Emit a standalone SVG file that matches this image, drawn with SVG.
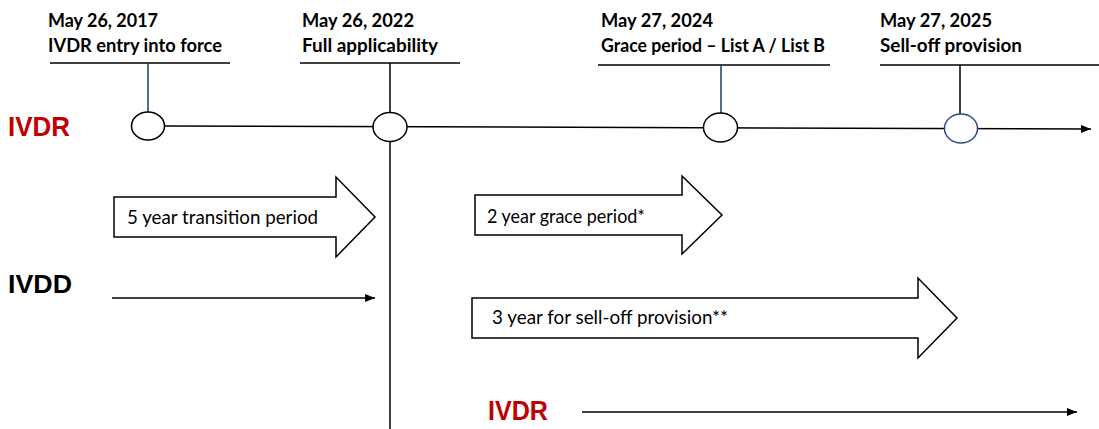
<svg xmlns="http://www.w3.org/2000/svg" width="1099" height="429" viewBox="0 0 1099 429">
  <defs>
    <marker id="ah" viewBox="0 0 10 8" refX="10" refY="4" markerWidth="10" markerHeight="8" markerUnits="userSpaceOnUse" orient="auto">
      <path d="M0,0 L10,4 L0,8 Z" fill="#000"/>
    </marker>
  </defs>
  <style>
    .date { font-family: Lato, "Liberation Sans", sans-serif; font-weight: bold; font-size: 18px; fill: #000; }
    .lbl { font-family: Lato, "Liberation Sans", sans-serif; font-size: 19px; fill: #000; }
    .reg { font-family: "Liberation Sans", Arial, sans-serif; font-weight: bold; }
    .red { fill: #c00000; }
    .ln { stroke: #000; stroke-width: 1.5; fill: none; }
    .blue { stroke: #1f3a68; }
    .node { fill: #fff; stroke: #000; stroke-width: 1.5; }
    .node.bluenode { stroke: #2b4f80; }
    .block { fill: #fff; stroke: #000; stroke-width: 1.5; stroke-linejoin: miter; }
  </style>
  <rect width="1099" height="429" fill="#fff"/>

  <g id="labels">
    <text class="reg red" x="8" y="136" font-size="28" textLength="62" lengthAdjust="spacingAndGlyphs">IVDR</text>
    <text class="reg" x="8" y="293" font-size="26" fill="#000" textLength="64" lengthAdjust="spacingAndGlyphs">IVDD</text>
    <text class="reg red" x="488" y="420" font-size="27" textLength="60" lengthAdjust="spacingAndGlyphs">IVDR</text>
  </g>

  <g id="connectors">
    <line class="ln" x1="164" y1="126" x2="1091" y2="129" marker-end="url(#ah)"/>
    <line class="ln" x1="390" y1="63" x2="390" y2="429"/>
    <line class="ln" x1="112" y1="298" x2="375" y2="298" marker-end="url(#ah)"/>
    <line class="ln" x1="582" y1="412" x2="1077" y2="412" marker-end="url(#ah)"/>
  </g>

  <g id="m2017">
    <text class="date" x="48" y="27" textLength="110" lengthAdjust="spacingAndGlyphs">May 26, 2017</text>
    <text class="date" x="48" y="52" textLength="174" lengthAdjust="spacingAndGlyphs">IVDR entry into force</text>
    <line class="ln" x1="50" y1="63" x2="230" y2="63"/>
    <line class="ln blue" x1="148" y1="63" x2="148" y2="112"/>
    <ellipse class="node" cx="148" cy="126" rx="16.5" ry="14"/>
  </g>

  <g id="m2022">
    <text class="date" x="302" y="27" textLength="112" lengthAdjust="spacingAndGlyphs">May 26, 2022</text>
    <text class="date" x="302" y="52" textLength="136" lengthAdjust="spacingAndGlyphs">Full applicability</text>
    <line class="ln" x1="300" y1="63" x2="460" y2="63"/>
    <ellipse class="node" cx="390" cy="127" rx="17" ry="14.5"/>
  </g>

  <g id="m2024">
    <text class="date" x="601" y="27" textLength="112" lengthAdjust="spacingAndGlyphs">May 27, 2024</text>
    <text class="date" x="601" y="52" textLength="224" lengthAdjust="spacingAndGlyphs">Grace period – List A / List B</text>
    <line class="ln" x1="598" y1="65" x2="830" y2="65"/>
    <line class="ln blue" x1="721" y1="65" x2="721" y2="113"/>
    <ellipse class="node" cx="720.5" cy="127.5" rx="17" ry="14.5"/>
  </g>

  <g id="m2025">
    <text class="date" x="880" y="27" textLength="112" lengthAdjust="spacingAndGlyphs">May 27, 2025</text>
    <text class="date" x="880" y="52" textLength="142" lengthAdjust="spacingAndGlyphs">Sell-off provision</text>
    <line class="ln" x1="880" y1="65" x2="1099" y2="65"/>
    <line class="ln" x1="960" y1="65" x2="960" y2="114"/>
    <ellipse class="node bluenode" cx="961" cy="128.5" rx="16.5" ry="14.5"/>
  </g>

  <g id="transition">
    <path class="block" d="M114,197 H336 V177 L375,217 L336,257 V237 H114 Z"/>
    <text class="lbl" x="127" y="224" textLength="191" lengthAdjust="spacingAndGlyphs">5 year transition period</text>
  </g>

  <g id="grace">
    <path class="block" d="M475,195 H682 V176 L722,215 L682,254 V235 H475 Z"/>
    <text class="lbl" x="487" y="223" textLength="158" lengthAdjust="spacingAndGlyphs">2 year grace period*</text>
  </g>

  <g id="selloff">
    <path class="block" d="M472,298 H918 V278 L957,318 L918,358 V338 H472 Z"/>
    <text class="lbl" x="492" y="324" textLength="236" lengthAdjust="spacingAndGlyphs">3 year for sell-off provision**</text>
  </g>
</svg>
